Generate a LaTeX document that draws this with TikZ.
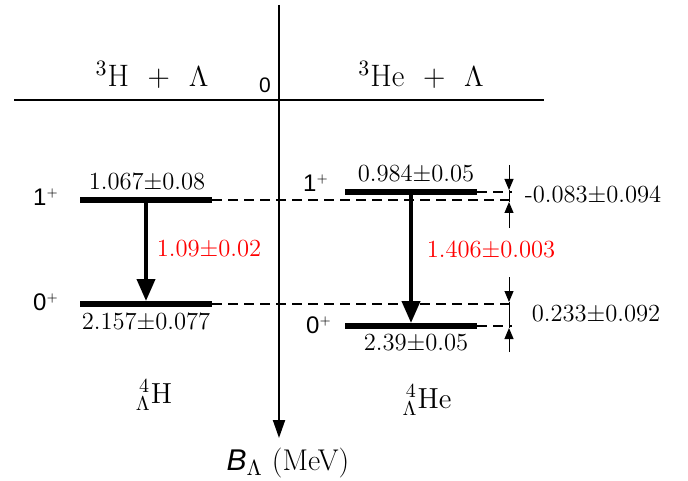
\documentclass[tikz,border=0pt]{standalone}
\usepackage{fontspec}
\newfontfamily\sansfam{Liberation Sans}
\usetikzlibrary{arrows.meta}

\begin{document}
\begin{tikzpicture}[x=0.5pt,y=-0.5pt,
	axis/.style={line width=1pt},
	level/.style={line width=2.6pt},
	guide/.style={line width=1pt, dash pattern=on 5pt off 3pt},
	trans/.style={line width=2pt, -{Triangle[length=11pt,width=9pt]}},
	gap/.style={line width=0.5pt, -{Triangle[length=5.5pt,width=4.5pt]}},
	val/.style={font=\fontsize{12.3}{14}\selectfont, inner sep=0pt},
	redval/.style={val, text=red},
	spin/.style={font=\sansfam\fontsize{12}{14}\selectfont, inner sep=0pt},
	head/.style={font=\fontsize{15.5}{18}\selectfont, inner sep=0pt},
	nucl/.style={font=\fontsize{14.5}{17}\selectfont, inner sep=0pt},
]
\useasboundingbox (0,0) rectangle (688,480);

% axes
\coordinate (top) at (279,5);
\coordinate (tip) at (279,438);
\coordinate (hl) at (14,100);
\coordinate (hr) at (544,100);
\draw[axis, line width=1.2pt] (hl) -- (hr);
\draw[axis, -{Triangle[length=9pt,width=6pt]}] (top) -- (tip);
\node[spin, font=\sansfam\fontsize{10.5}{12}\selectfont] (zero) at (265,85) {0};
\node[head] (thr) at (152,75) {$^3$H \ + \ $\Lambda$};
\node[head] (the) at (421,75) {$^3$He \ + \ $\Lambda$};
\node[font=\fontsize{15}{17}\selectfont, inner sep=0pt] (unit) at (288,463)
	{{\sansfam\itshape B}$_\Lambda$ (MeV)};

% 4H (left)
\coordinate (h1a) at (80,200);  \coordinate (h1b) at (212,200);
\coordinate (h0a) at (80,304);  \coordinate (h0b) at (212,304);
\draw[level] (h1a) -- (h1b);
\draw[level] (h0a) -- (h0b);
\node[spin] (hs1) at (46,197) {1$^{\scriptscriptstyle +}$};
\node[spin] (hs0) at (46,302) {0$^{\scriptscriptstyle +}$};
\node[val] (hv1) at (147,182) {1.067$\pm$0.08};
\node[val] (hv0) at (146,322) {2.157$\pm$0.077};
\coordinate (ht) at (146,200);
\coordinate (hb) at (146,301);
\draw[trans] (ht) -- (hb);
\node[redval] (hg) at (209,249) {1.09$\pm$0.02};
\node[nucl] (hname) at (154,395) {$^{\,4}_{\Lambda}$H};

% 4He (right)
\coordinate (e1a) at (345,192); \coordinate (e1b) at (477,192);
\coordinate (e0a) at (345,326); \coordinate (e0b) at (477,326);
\draw[level] (e1a) -- (e1b);
\draw[level] (e0a) -- (e0b);
\node[spin] (es1) at (316,183) {1$^{\scriptscriptstyle +}$};
\node[spin] (es0) at (319,325) {0$^{\scriptscriptstyle +}$};
\node[val] (ev1) at (416,174) {0.984$\pm$0.05};
\node[val] (ev0) at (416,343) {2.39$\pm$0.05};
\coordinate (et) at (411,192);
\coordinate (eb) at (411,323);
\draw[trans] (et) -- (eb);
\node[redval] (eg) at (491,250) {1.406$\pm$0.003};
\node[nucl] (ename) at (427,400) {$^{\,4}_{\Lambda}$He};

% guide lines
\coordinate (g1) at (512,200);
\coordinate (g0) at (512,304);
\coordinate (f1) at (512,192);
\coordinate (f0) at (512,326);
\draw[guide] (h1b) -- (g1);
\draw[guide] (h0b) -- (g0);
\draw[guide] (e1b) -- (f1);
\draw[guide] (e0b) -- (f0);

% shifts
\coordinate (d1) at (509,165); \coordinate (d1t) at (509,190);
\coordinate (d2) at (509,228); \coordinate (d2t) at (509,202);
\coordinate (d3) at (509,277); \coordinate (d3t) at (509,302);
\coordinate (d4) at (509,352); \coordinate (d4t) at (509,328);
\draw[gap] (d1) -- (d1t);
\draw[gap] (d2) -- (d2t);
\draw[gap] (d3) -- (d3t);
\draw[gap] (d4) -- (d4t);
\draw[line width=0.5pt] (d1t) -- (d2t);
\draw[line width=0.5pt] (d3t) -- (d4t);
\node[val] (s1) at (593,195) {-0.083$\pm$0.094};
\node[val] (s0) at (596,314) {0.233$\pm$0.092};
\end{tikzpicture}
\end{document}
